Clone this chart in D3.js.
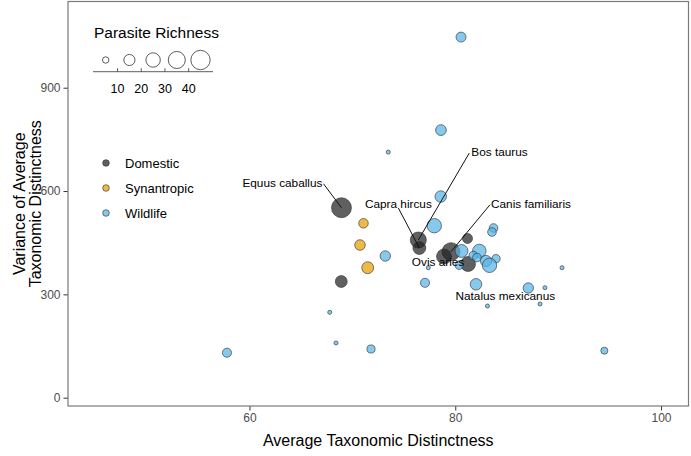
<!DOCTYPE html>
<html><head><meta charset="utf-8">
<script src="https://cdn.jsdelivr.net/npm/d3@7"></script>
<style>body{margin:0;background:#fff} svg{display:block;font-family:"Liberation Sans",Arial,sans-serif}</style>
</head><body><svg id="c" width="691" height="456"></svg>
<script>
// ---------- data ----------
const groups = ["Domestic", "Synantropic", "Wildlife"];
const groupColors = ["#222222", "#E69F00", "#56B4E9"];

const domesticX    = [68.94, 68.92, 76.41, 76.51, 81.19, 79.59, 78.91, 81.24];
const domesticY    = [551.6, 337.4, 457.8, 434.6, 462.2, 423.9, 410.0, 388.2];
const domesticRich = [48, 17, 31, 20, 12, 39, 27, 27];

const synanX    = [71.08, 70.74, 71.49];
const synanY    = [506.3, 443.3, 377.4];
const synanRich = [11, 13.5, 17];

const wildX = [80.56, 78.61, 73.49, 78.59, 77.96, 83.72, 83.57, 73.20, 80.61, 82.34,
               81.75, 82.11, 82.99, 83.96, 83.33, 80.38, 77.38, 77.06, 82.02, 87.10,
               88.72, 88.24, 83.13, 90.38, 94.49, 57.81, 67.80, 68.41, 71.81];
const wildY = [1047, 777, 713, 584, 499.4, 492.7, 481, 411.4, 426, 426,
               412.8, 407, 396.9, 403.6, 384.4, 384.7, 377.4, 333.6, 329.2, 318.5,
               319.4, 272, 266.2, 377.4, 136.5, 130.6, 247.9, 159, 141.4];
const wildRich = [12, 14, 2, 16, 25, 9, 9, 13, 20, 22,
                  9, 9, 15, 8.5, 25, 8.5, 2, 10, 16, 13,
                  2, 2, 2, 2, 6, 10, 2, 2, 8];

const xTicks = [60, 80, 100];
const yTicks = [0, 300, 600, 900];
const sizeBreaks = [10, 20, 30, 40];
const sizeKeyValues = [5, 15, 25, 35, 45];

// labelled hosts: name, group index, point index
const labelNames  = ["Equus caballus", "Bos taurus", "Capra hircus", "Canis familiaris", "Ovis aries", "Natalus mexicanus"];
const labelGroup  = [0, 0, 0, 0, 0, 2];
const labelPoint  = [0, 2, 3, 5, 6, 19];

// ---------- layout ----------
const W = 691, H = 456;
const panel = {l: 68, r: 688.5, t: 1.5, b: 406};
const svg = d3.select("#c");

const x = d3.scaleLinear().domain([42.36, 102.67]).range([panel.l, panel.r]);
const y = d3.scaleLinear().domain([-24.1, 1150.3]).range([panel.b, panel.t]);
const rScale = d3.scaleSqrt().domain([0, 45]).range([0, 9.66]);

const fillOpacity = 0.72;

function pts(gi, xs, ys, rs) {
  return xs.map((v, i) => ({g: gi, x: v, y: ys[i], rich: rs[i]}));
}
const allPts = [
  pts(0, domesticX, domesticY, domesticRich),
  pts(1, synanX, synanY, synanRich),
  pts(2, wildX, wildY, wildRich)
];

svg.append("rect").attr("x", 0).attr("y", 0).attr("width", W).attr("height", H).attr("fill", "#fff");

// axes
const gx = svg.append("g").attr("transform", `translate(0,${panel.b})`)
  .call(d3.axisBottom(x).tickValues(xTicks).tickSize(4.5).tickPadding(3).tickFormat(d3.format("d")));
const gy = svg.append("g").attr("transform", `translate(${panel.l},0)`)
  .call(d3.axisLeft(y).tickValues(yTicks).tickSize(4.5).tickPadding(3).tickFormat(d3.format("d")));
[gx, gy].forEach(g => {
  g.select(".domain").remove();
  g.selectAll(".tick line").attr("stroke", "#333").attr("stroke-width", 1);
  g.selectAll(".tick text").attr("fill", "#4d4d4d").style("font-size", "12px")
    .style("font-family", '"Liberation Sans",Arial,sans-serif');
});

// points
[0, 1, 2].forEach(gi => {
  svg.append("g").selectAll("circle").data(allPts[gi]).join("circle")
    .attr("cx", d => x(d.x)).attr("cy", d => y(d.y)).attr("r", d => rScale(d.rich))
    .attr("fill", groupColors[gi]).attr("fill-opacity", fillOpacity)
    .attr("stroke", "#333").attr("stroke-opacity", 0.8).attr("stroke-width", 0.8);
});

// labels with segments (offsets in px from the labelled point)
const labelLayout = [
  {dx: -19, dy: -25, anchor: "end",   sx: -18, sy: -24},
  {dx: 53,  dy: -88, anchor: "start", sx: 51,  sy: -87},
  {dx: -21, dy: -44, anchor: "middle",sx: -21, sy: -40},
  {dx: 40,  dy: -48, anchor: "start", sx: 39,  sy: -47},
  {dx: -6,  dy: 5.5, anchor: "middle",sx: null},
  {dx: -23, dy: 8,   anchor: "middle",sx: null}
];
const lg = svg.append("g");
labelNames.forEach((name, i) => {
  const p = allPts[labelGroup[i]][labelPoint[i]];
  const px = x(p.x), py = y(p.y);
  const L = labelLayout[i];
  if (L.sx !== null) {
    lg.append("line").attr("x1", px + L.sx).attr("y1", py + L.sy).attr("x2", px).attr("y2", py)
      .attr("stroke", "#111").attr("stroke-width", 1);
  }
  lg.append("text").attr("x", px + L.dx).attr("y", py + L.dy).attr("dy", "0.35em")
    .attr("text-anchor", L.anchor).style("font-size", "11.8px").attr("fill", "#000").text(name);
});

// panel border
svg.append("rect").attr("x", panel.l).attr("y", panel.t)
  .attr("width", panel.r - panel.l).attr("height", panel.b - panel.t)
  .attr("fill", "none").attr("stroke", "#7a7a7a").attr("stroke-width", 1.2);

// axis titles
svg.append("text").attr("x", (panel.l + panel.r) / 2).attr("y", 446)
  .attr("text-anchor", "middle").style("font-size", "16px").attr("fill", "#000")
  .text("Average Taxonomic Distinctness");
const yt = svg.append("text").attr("transform", `translate(19,${(panel.t + panel.b) / 2}) rotate(-90)`)
  .attr("text-anchor", "middle").style("font-size", "16px").attr("fill", "#000");
yt.append("tspan").attr("x", 0).attr("dy", "0.35em").text("Variance of Average");
yt.append("tspan").attr("x", 0).attr("dy", "1.05em").text("Taxonomic Distinctness");

// size legend
const sl = svg.append("g");
sl.append("text").attr("x", 94).attr("y", 33).attr("dy", "0.35em").style("font-size", "15.5px")
  .attr("fill", "#000").text("Parasite Richness");
const keyX0 = 105.7, keyStep = 23.7, keyY = 60, lineY = 71.7;
sl.selectAll("circle").data(sizeKeyValues).join("circle")
  .attr("cx", (d, i) => keyX0 + i * keyStep).attr("cy", keyY).attr("r", d => rScale(d))
  .attr("fill", "#fff").attr("stroke", "#333").attr("stroke-width", 0.8);
sl.append("line").attr("x1", 93).attr("x2", 213).attr("y1", lineY).attr("y2", lineY)
  .attr("stroke", "#333").attr("stroke-width", 0.8);
sizeBreaks.forEach((b, i) => {
  const tx = keyX0 + keyStep * (i + 0.5);
  sl.append("line").attr("x1", tx).attr("x2", tx).attr("y1", lineY - 3.5).attr("y2", lineY)
    .attr("stroke", "#333").attr("stroke-width", 0.8);
  sl.append("text").attr("x", tx).attr("y", 89).attr("dy", "0.35em").attr("text-anchor", "middle")
    .style("font-size", "12.5px").attr("fill", "#000").text(b);
});

// colour legend
const cl = svg.append("g");
groups.forEach((g, i) => {
  const yy = 163 + i * 25;
  cl.append("circle").attr("cx", 106).attr("cy", yy).attr("r", 3.3)
    .attr("fill", groupColors[i]).attr("fill-opacity", fillOpacity)
    .attr("stroke", "#333").attr("stroke-opacity", 0.8).attr("stroke-width", 0.8);
  cl.append("text").attr("x", 125).attr("y", yy).attr("dy", "0.35em").style("font-size", "13px")
    .attr("fill", "#000").text(g);
});
</script></body></html>
